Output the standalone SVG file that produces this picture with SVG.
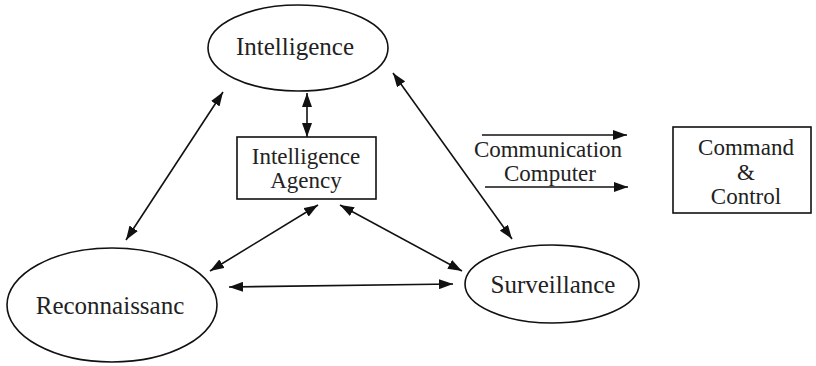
<svg xmlns="http://www.w3.org/2000/svg" width="816" height="366" viewBox="0 0 816 366">
<style>
.shape{fill:#fff;stroke:#111;stroke-width:1.6}
.lbl{font-family:'Liberation Serif','DejaVu Serif',serif;font-size:25px;fill:#222;text-anchor:middle}
.ml{font-size:23px}
.con{stroke:#111;stroke-width:1.6;fill:none}
</style>
<defs>
<marker id="ah" viewBox="0 0 14 10" refX="14" refY="5" markerWidth="14" markerHeight="10" markerUnits="userSpaceOnUse" orient="auto-start-reverse">
<path d="M0,0 L14,5 L0,10 z" fill="#111"/>
</marker>
</defs>
<rect width="816" height="366" fill="#fff"/>
<g id="connectors">
<line class="con" x1="307" y1="93" x2="307" y2="137" marker-start="url(#ah)" marker-end="url(#ah)"/>
<line class="con" x1="223" y1="92" x2="126" y2="240" marker-start="url(#ah)" marker-end="url(#ah)"/>
<line class="con" x1="393" y1="73" x2="512" y2="239" marker-start="url(#ah)" marker-end="url(#ah)"/>
<line class="con" x1="318" y1="205" x2="210" y2="271" marker-start="url(#ah)" marker-end="url(#ah)"/>
<line class="con" x1="340" y1="205" x2="462" y2="271" marker-start="url(#ah)" marker-end="url(#ah)"/>
<line class="con" x1="229" y1="287" x2="453" y2="284" marker-start="url(#ah)" marker-end="url(#ah)"/>
<line class="con" x1="482" y1="135" x2="627" y2="135" marker-end="url(#ah)"/>
<line class="con" x1="485" y1="187" x2="628" y2="187" marker-end="url(#ah)"/>
</g>
<g id="intelligence">
<ellipse class="shape" cx="298" cy="48" rx="90" ry="43"/>
<text class="lbl" x="295" y="55">Intelligence</text>
</g>
<g id="agency">
<rect class="shape" x="237" y="137" width="139" height="62"/>
<text class="lbl ml" x="306" y="164">Intelligence</text>
<text class="lbl ml" x="306" y="188">Agency</text>
</g>
<g id="reconnaissance">
<ellipse class="shape" cx="112" cy="305" rx="105" ry="57"/>
<text class="lbl" x="110" y="314">Reconnaissanc</text>
</g>
<g id="surveillance">
<ellipse class="shape" cx="552" cy="284" rx="87" ry="39"/>
<text class="lbl" x="553" y="293">Surveillance</text>
</g>
<g id="comm-label">
<text class="lbl ml" x="548" y="157">Communication</text>
<text class="lbl ml" x="550" y="181">Computer</text>
</g>
<g id="command">
<rect class="shape" x="673" y="127" width="138" height="86"/>
<text class="lbl ml" x="746" y="155">Command</text>
<text class="lbl ml" x="746" y="180">&amp;</text>
<text class="lbl ml" x="746" y="204">Control</text>
</g>
</svg>
